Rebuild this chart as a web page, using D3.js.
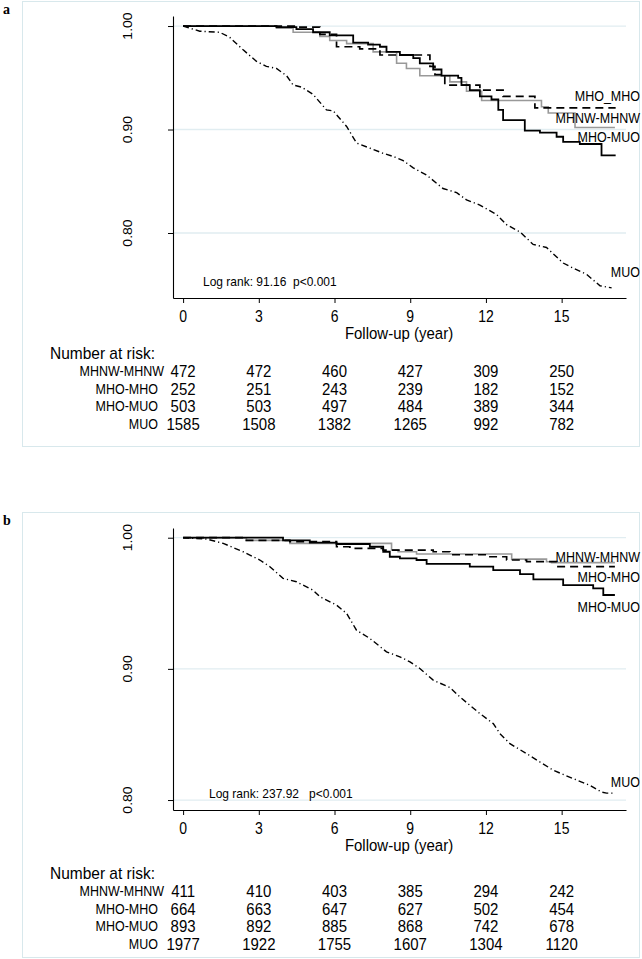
<!DOCTYPE html>
<html>
<head>
<meta charset="utf-8">
<script src="https://cdn.jsdelivr.net/npm/d3@7"></script>
<style>
  body { margin: 0; background: #fff; }
  text { font-family: "Liberation Sans", Arial, sans-serif; fill: #000; }
</style>
</head>
<body>
<script>

    // ---- data ----
    const xTicks = [0, 3, 6, 9, 12, 15];
    const yTicks = [0.80, 0.90, 1.00];
    const groups = ["MHNW-MHNW", "MHO-MHO", "MHO-MUO", "MUO"];

    // panel a: Kaplan-Meier points [year, survival]
    const survA_MHNW = [[0,1],[3.7,0.998],[4.36,0.994],[5.42,0.990],[5.81,0.986],[6.48,0.983],[7.53,0.975],[8.46,0.964],[8.85,0.959],[9.38,0.952],[10.57,0.946],[11.23,0.937],[11.83,0.928],[14.2,0.922],[14.47,0.916],[15.53,0.902],[17.11,0.902]];
    const survA_MHO = [[0,1],[4.56,0.999],[5.42,0.992],[6.08,0.980],[7.0,0.978],[7.8,0.972],[9.78,0.961],[9.98,0.953],[10.37,0.943],[11.76,0.938],[12.68,0.932],[13.94,0.921],[17.14,0.921]];
    const survA_MHOMUO = [[0,1],[3.7,0.999],[4.49,0.997],[5.15,0.994],[5.81,0.991],[6.74,0.984],[7.33,0.982],[7.8,0.980],[8.06,0.975],[8.59,0.972],[9.12,0.969],[9.38,0.964],[9.91,0.958],[10.24,0.952],[10.9,0.950],[11.03,0.943],[11.36,0.938],[11.76,0.932],[12.22,0.929],[12.49,0.919],[12.68,0.909],[13.54,0.899],[14.14,0.897],[14.8,0.893],[15.06,0.888],[15.72,0.886],[16.58,0.875],[17.14,0.875]];
    const survA_MUO = [[0,1],[0.66,0.995],[1.45,0.994],[1.85,0.989],[2.38,0.977],[2.9,0.966],[3.3,0.961],[3.7,0.959],[4.1,0.952],[4.36,0.943],[4.69,0.941],[5.15,0.934],[5.68,0.919],[5.95,0.918],[6.48,0.903],[6.87,0.887],[7.4,0.882],[7.93,0.877],[8.32,0.874],[8.72,0.870],[9.12,0.863],[9.65,0.856],[10.3,0.843],[10.84,0.839],[11.23,0.832],[11.76,0.827],[12.42,0.818],[12.82,0.808],[13.35,0.801],[13.87,0.789],[14.4,0.786],[15.06,0.771],[15.46,0.766],[15.99,0.760],[16.52,0.749],[16.98,0.747]];

    // panel b
    const survB_MHNW = [[0,1],[2.51,0.998],[4.23,0.9957],[8.26,0.9908],[8.52,0.9893],[9.25,0.9876],[13.02,0.9837],[14.4,0.9817],[14.6,0.981],[17.11,0.981]];
    const survB_MHO = [[0,1],[2.38,0.998],[4.23,0.997],[6.08,0.9931],[6.61,0.9919],[7.93,0.9906],[9.91,0.9893],[10.57,0.987],[12.03,0.9855],[12.82,0.983],[13.61,0.9817],[14.8,0.9779],[17.11,0.9779]];
    const survB_MHOMUO = [[0,1],[3.96,0.998],[5.02,0.9962],[6.08,0.9952],[7.4,0.9931],[7.93,0.9893],[8.19,0.9855],[8.59,0.9843],[9.25,0.983],[9.65,0.980],[11.36,0.9779],[12.29,0.9753],[13.35,0.9723],[13.88,0.9682],[15.06,0.9639],[16.25,0.9614],[16.65,0.9563],[17.11,0.9563]];
    const survB_MUO = [[0,1],[0.93,0.999],[1.59,0.9957],[2.38,0.9893],[3.04,0.983],[3.44,0.9779],[3.96,0.969],[4.49,0.9664],[5.15,0.960],[5.42,0.955],[6.08,0.9486],[6.48,0.9423],[6.87,0.9295],[7.4,0.9232],[8.06,0.913],[8.59,0.9092],[8.99,0.9053],[9.38,0.9003],[9.91,0.8914],[10.57,0.8858],[10.97,0.8786],[11.36,0.8723],[11.76,0.8659],[12.29,0.8583],[12.55,0.8507],[12.95,0.843],[13.61,0.8354],[14.14,0.829],[14.67,0.8227],[15.46,0.8163],[16.12,0.8112],[16.58,0.8061],[16.78,0.8053],[17.11,0.8053]];

    // number at risk
    const riskA_MHNW = [472, 472, 460, 427, 309, 250];
    const riskA_MHO = [252, 251, 243, 239, 182, 152];
    const riskA_MHOMUO = [503, 503, 497, 484, 389, 344];
    const riskA_MUO = [1585, 1508, 1382, 1265, 992, 782];
    const riskB_MHNW = [411, 410, 403, 385, 294, 242];
    const riskB_MHO = [664, 663, 647, 627, 502, 454];
    const riskB_MHOMUO = [893, 892, 885, 868, 742, 678];
    const riskB_MUO = [1977, 1922, 1755, 1607, 1304, 1120];

    const SY = 1.12; // text in the figure is drawn a little taller than wide

    const svg = d3.select("body").append("svg")
        .attr("width", 642)
        .attr("height", 959);

    function place(sel, x, y, rot) {
        sel.attr("transform", `translate(${x},${y}) scale(1,${SY})` + (rot ? ` rotate(${rot})` : ""));
        return sel;
    }

    const styles = [
        {stroke: "#999", width: 1.6, dash: null, curve: d3.curveStepAfter},
        {stroke: "#000", width: 1.7, dash: "8,5", curve: d3.curveStepAfter},
        {stroke: "#000", width: 1.8, dash: null, curve: d3.curveStepAfter},
        {stroke: "#000", width: 1.4, dash: "6,3,1.2,3", curve: d3.curveLinear}
    ];

    function drawPanel(p) {
        const g = svg.append("g");

        g.append("rect")
            .attr("x", 22.5).attr("y", p.boxTop + 0.5)
            .attr("width", 617).attr("height", p.boxBottom - p.boxTop)
            .attr("fill", "none").attr("stroke", "#d8e8ec");

        g.append("text").text(p.letter)
            .attr("x", 3).attr("y", p.boxTop + 13)
            .style("font-family", "'Liberation Serif', serif")
            .style("font-weight", "bold").style("font-size", "14px");

        const x = d3.scaleLinear().domain([-0.4, 17.55]).range([173, 626]);
        const y = d3.scaleLinear().domain(p.yDomain).range([p.axisBottom, p.axisTop]);

        // grid
        g.selectAll("line.grid").data(yTicks).join("line")
            .attr("class", "grid")
            .attr("x1", 173).attr("x2", 626)
            .attr("y1", d => y(d)).attr("y2", d => y(d))
            .attr("stroke", "#e1edf1").attr("stroke-width", 1.3);

        // axes
        const ax = g.append("g")
            .attr("transform", `translate(0,${p.axisBottom})`)
            .call(d3.axisBottom(x).tickValues(xTicks).tickSize(5).tickSizeOuter(0).tickFormat(""));
        const ay = g.append("g")
            .attr("transform", "translate(173,0)")
            .call(d3.axisLeft(y).tickValues(yTicks).tickSize(5).tickSizeOuter(0).tickFormat(""));
        [ax, ay].forEach(a => {
            a.select(".domain").attr("stroke", "#000").attr("stroke-width", 1.1);
            a.selectAll(".tick line").attr("stroke", "#000");
        });

        xTicks.forEach(t => {
            place(g.append("text").text(t), x(t), p.axisBottom + 18)
                .attr("text-anchor", "middle").attr("dy", "0.36em")
                .style("font-size", "14px");
        });
        yTicks.forEach(t => {
            place(g.append("text").text(d3.format(".2f")(t)), 127, y(t), -90)
                .attr("text-anchor", "middle").attr("dy", "0.36em")
                .style("font-size", "12.5px");
        });
        place(g.append("text").text("Follow-up (year)"), 399, p.axisBottom + 35)
            .attr("text-anchor", "middle").attr("dy", "0.36em")
            .style("font-size", "15px");

        // curves
        p.series.forEach((s, i) => {
            const st = styles[i];
            const line = d3.line().x(d => x(d[0])).y(d => y(d[1])).curve(st.curve);
            g.append("path")
                .datum(s)
                .attr("d", line)
                .attr("fill", "none")
                .attr("stroke", st.stroke)
                .attr("stroke-width", st.width)
                .attr("stroke-dasharray", st.dash);
        });

        // curve labels
        p.curveLabels.forEach((lab, i) => {
            place(g.append("text").text(lab), 640, p.labelY[i])
                .attr("text-anchor", "end").attr("dy", "0.36em")
                .style("font-size", "12.5px");
        });

        place(g.append("text").text(p.logRank), p.logRankX, p.logRankY)
            .attr("dy", "0.36em")
            .style("font-size", "12px").style("white-space", "pre");

        // number at risk table
        place(g.append("text").text("Number at risk:"), 50, p.tableY[0])
            .attr("dy", "0.36em").style("font-size", "15.5px");
        groups.forEach((name, r) => {
            const ry = p.tableY[r + 1];
            place(g.append("text").text(name), r === 0 ? 164 : 158, ry)
                .attr("text-anchor", "end").attr("dy", "0.36em")
                .style("font-size", "12.5px");
            p.risk[r].forEach((n, c) => {
                place(g.append("text").text(n), x(xTicks[c]), ry)
                    .attr("text-anchor", "middle").attr("dy", "0.36em")
                    .style("font-size", "15px");
            });
        });
    }

    drawPanel({
        letter: "a",
        boxTop: 1, boxBottom: 446,
        axisTop: 16, axisBottom: 298,
        yDomain: [0.7372, 1.0097],
        series: [survA_MHNW, survA_MHO, survA_MHOMUO, survA_MUO],
        curveLabels: ["MHNW-MHNW", "MHO_MHO", "MHO-MUO", "MUO"],
        labelY: [118, 96, 137, 272],
        logRank: "Log rank: 91.16  p<0.001",
        logRankX: 203, logRankY: 281,
        tableY: [353, 371, 388.5, 406, 423.5],
        risk: [riskA_MHNW, riskA_MHO, riskA_MHOMUO, riskA_MUO]
    });

    drawPanel({
        letter: "b",
        boxTop: 512, boxBottom: 957,
        axisTop: 528, axisBottom: 810,
        yDomain: [0.7924, 1.0074],
        series: [survB_MHNW, survB_MHO, survB_MHOMUO, survB_MUO],
        curveLabels: ["MHNW-MHNW", "MHO-MHO", "MHO-MUO", "MUO"],
        labelY: [557, 577, 607, 782],
        logRank: "Log rank: 237.92   p<0.001",
        logRankX: 209, logRankY: 793,
        tableY: [873, 891, 908.5, 926, 943.5],
        risk: [riskB_MHNW, riskB_MHO, riskB_MHOMUO, riskB_MUO]
    });
</script>
</body>
</html>
